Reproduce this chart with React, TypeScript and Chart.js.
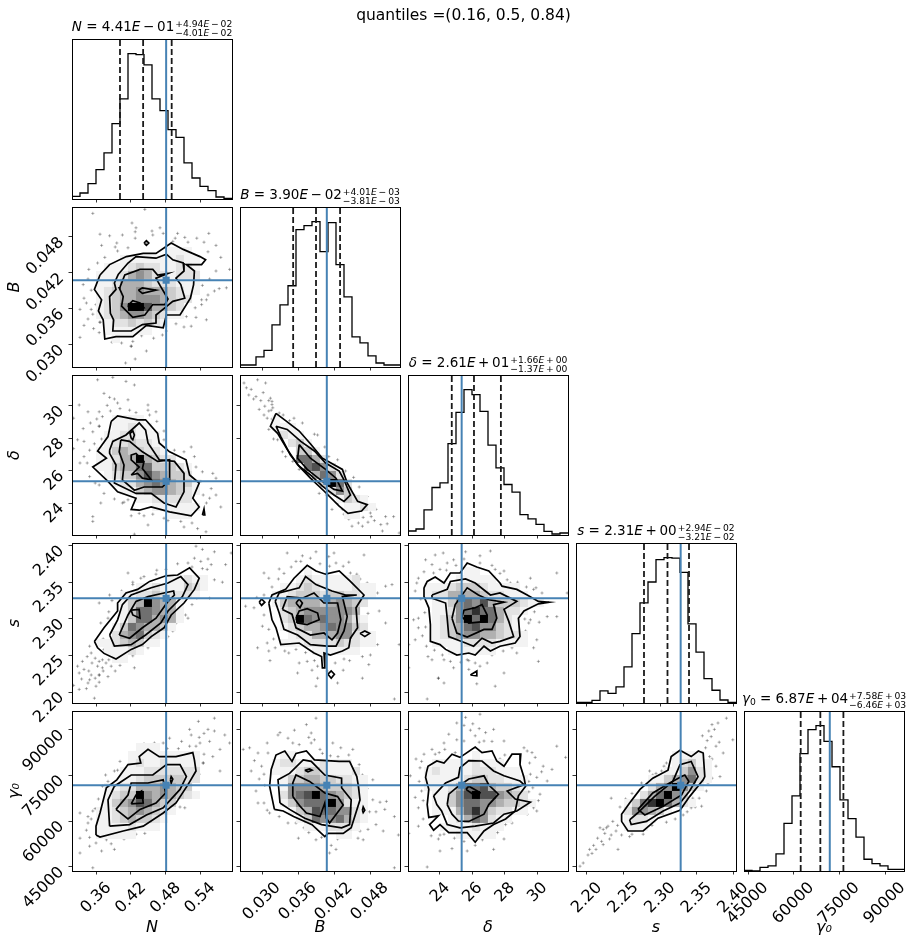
import React, { useEffect, useRef } from "react";
import { Chart, registerables } from "chart.js";

Chart.register(...registerables);

// ---- parameters: N, B, delta, s, gamma0 ----
const axisLabels = ["N", "B", "δ", "s", "γ₀"];
const rangeLo = [0.318, 0.02633, 22.03, 2.185, 43600];
const rangeHi = [0.5947, 0.053, 31.9, 2.4036, 96200];
const truths = [0.4808, 0.0408, 25.34, 2.328, 71800];
const q16 = [0.401, 0.03519, 24.73, 2.2779, 62240];
const q50 = [0.441, 0.039, 26.1, 2.31, 68700];
const q84 = [0.4904, 0.04301, 27.76, 2.3394, 76280];

const tickValues = [
  [0.36, 0.42, 0.48, 0.54],
  [0.03, 0.036, 0.042, 0.048],
  [24, 26, 28, 30],
  [2.2, 2.25, 2.3, 2.35, 2.4],
  [45000, 60000, 75000, 90000],
];
const tickLabels = [
  ["0.36", "0.42", "0.48", "0.54"],
  ["0.030", "0.036", "0.042", "0.048"],
  ["24", "26", "28", "30"],
  ["2.20", "2.25", "2.30", "2.35", "2.40"],
  ["45000", "60000", "75000", "90000"],
];

const titleSymbols = ["N", "B", "δ", "s", "γ"];
const titleValues = ["4.41", "3.90", "2.61", "2.31", "6.87"];
const titleExps = ["− 01", "− 02", "+ 01", "+ 00", "+ 04"];
const titlePlus = ["+4.94|− 02", "+4.01|− 03", "+1.66|+ 00", "+2.94|− 02", "+7.58|+ 03"];
const titleMinus = ["−4.01|− 02", "−3.81|− 03", "−1.37|+ 00", "−3.21|− 02", "−6.46|+ 03"];
const supTitle = "quantiles =(0.16, 0.5, 0.84)";

// ---- 1-D histogram counts, 20 bins each ----
const histN = [8, 18, 46, 88, 138, 226, 300, 436, 433, 402, 300, 265, 208, 185, 108, 63, 38, 25, 6, 2];
const histB = [6, 6, 30, 50, 126, 186, 243, 411, 423, 435, 345, 432, 306, 210, 90, 72, 33, 12, 6, 6];
const histD = [12, 18, 75, 142, 156, 273, 367, 435, 420, 370, 269, 201, 151, 128, 61, 48, 32, 11, 3, 6];
const histS = [2, 2, 8, 36, 29, 48, 108, 207, 299, 361, 428, 434, 432, 390, 236, 152, 73, 38, 9, 2];
const histG = [2, 0, 11, 15, 51, 142, 224, 350, 422, 434, 387, 311, 212, 156, 101, 35, 22, 15, 5, 5];

// ---- 2-D density on the 20x20 bin grid, top row first, one digit per bin ----
const heatNB = ["", "", "", "", "", "000000000000111",
  "0000001111111211", "0000111232211221", "0001112454221222", "0001124443222111",
  "0001234454443211", "000123445554322", "00012359974432", "00012345543211",
  "0000122323210", "0000111111", "000001"];
const heatBD = ["", "", "", "", "00000", "00001", "0000111", "00000211", "000000231", "0000000331",
  "00000006642", "000000006752", "0000000004652", "00000000003962", "00000000000253",
  "0000000000001321", "00000000000001121", "000000000000011"];
const heatND = ["", "", "", "", "", "000001111", "0000011211", "00001122111", "00001223221",
  "000113433221", "0001124494322", "000113446633321", "000012335754332", "0000012245654331",
  "0000001134554321", "000000001122222", "0000000000111111", "000000000000111"];
const heatNS = ["", "", "", "", "000000000000112110", "000000001121113210",
  "00000011223222210", "00000013495441", "00000013665441", "00000013664541",
  "00000136544310", "00000245632100", "00011234311", "00001112100", "00000110"];
const heatBS = ["", "", "", "000000001", "0000000121111120", "00000112321111211", "00001123332332211",
  "00001344443454320", "000002345555554", "0000023965655421", "0000012344565532",
  "00000012244455211", "00000111222232211", "00000000011111100"];
const heatDS = ["", "", "", "00000001100", "00000011111", "00111233321111", "001224444322111",
  "00011356574333211", "0001125686642210", "00012359696421", "00012346755321",
  "000123455443221", "00011112222111100", "00000111111"];
const heatNG = ["", "", "", "", "0000000011100", "00000001111111110", "0000000121121111",
  "0000001112222222", "0000001123333322", "000011224445433", "0000123395454321",
  "0000134576433", "00011234543210", "00011234332100", "00011112111", "00011111"];
const heatBG = ["", "", "", "", "", "00000110", "00001221112111", "000011123321112",
  "0000013344332211", "0000015555433321", "0000025679654321", "0000013566695211",
  "0000001347665521", "0000000136556421", "000000001112221", "00000000000011"];
const heatDG = ["", "", "", "", "", "000000001", "00011111211100", "00121111222111",
  "001111123322111", "001112466743321", "000113579775432", "0001135665543321",
  "000111468532211", "0000012465211", "00001111211100", "00000011111"];
const heatSG = ["", "", "", "", "", "000000000000111100", "00000000000012311", "00000000000113521",
  "00000000011345621", "00000000024595310", "00000000246953000", "000000136896421",
  "00000025543100000", "00000012210000000", "00000011100000000"];

// ---- contour vertices on the same bin grid (column, row from the top) ----
type P = number[];
const contourNB: P[][] = [
  [[3.5,8.5],[4.7,7.2],[6.8,6.2],[8.9,5.8],[10.5,5.8],[12.4,4.5],[13.9,5.3],[16,6.2],[16.7,6.6],[16.2,7.2],[14.3,7.2],[15.3,8],[15.2,9.7],[14.8,11.4],[13.5,13.5],[11.8,13.5],[11.4,15.1],[9.3,14.8],[7.6,16.2],[5.5,16.2],[4.1,16.5],[3.9,14.1],[3.3,13],[3.7,11.6],[2.8,10.3]],
  [[5.8,8.4],[7,7],[8,6.2],[10.5,6.4],[11.8,5.9],[12.6,6.6],[13.9,7],[14,8],[13,8.9],[13.6,9.7],[14.1,11.4],[12.6,11.8],[11.6,12.6],[10.5,13.5],[10.5,14.5],[8.8,14.7],[7.4,15.5],[5.1,15.5],[5.2,14.1],[4.8,13.3],[4.7,11.2],[5.5,10.3],[5.3,9.5]],
  [[6,10],[6.6,8.5],[8.5,7.8],[10.1,7.8],[10.7,8.5],[12,8.3],[10.5,8.9],[11,9.8],[12,11.5],[11.6,12.2],[10.1,12.2],[9.1,13.5],[7.6,13.8],[6.2,12.4],[6.4,11.2],[5.9,10.1]],
  [[7,12.3],[7.6,11.7],[8.5,12],[9,12.6],[8.1,12.9],[7.2,12.8]],
  [[8.3,10.4],[8.8,10.1],[10.5,10.4],[8.8,10.8]],
  [[9,4.5],[9.3,4.2],[9.6,4.5],[9.3,4.8]],
];
const contourBD: P[][] = [
  [[4.5,4.8],[5.7,5.7],[7.4,7],[8.8,8.6],[10.3,10.4],[12.8,11.8],[13.4,13.5],[14.7,15.8],[15.9,16.2],[15.2,17],[13.5,17.3],[12.4,16.4],[10.5,14.5],[8.8,12.9],[7.2,11.2],[5.9,9.3],[4.7,7.3],[3.8,6.4]],
  [[4.5,6.4],[5.9,6.8],[7.6,8.3],[9.3,9.5],[10.7,11],[12.4,12],[13,13.1],[13.8,15],[13,15.8],[11.75,15],[10.3,13.9],[8.8,12.5],[7.4,11.4],[6.3,10],[5.1,7.7]],
  [[7.4,8.7],[8.8,10.4],[10.7,11.8],[12,12.9],[12.8,14.5],[11.75,14.3],[10.3,13.3],[8.4,11.8],[7.2,10.4]],
];
const contourND: P[][] = [
  [[4.9,5.8],[5.7,5.1],[8.2,5.6],[9.2,5.6],[10.7,7.3],[10.9,8.5],[12.2,9.6],[14.25,10.6],[14.7,12.5],[15.9,13.5],[15.1,15.4],[15.9,16.5],[14.9,17.6],[12.2,17.1],[9.9,16.5],[8.4,16.9],[7.4,16.8],[8,15.4],[5.7,14.6],[4.5,13.3],[2.6,11.5],[4.3,10.4],[3.2,9.5],[4.5,7.7]],
  [[4.7,9.4],[5.1,8.3],[6.75,7.5],[8.4,6],[9.2,6.9],[9.5,8.5],[10.9,10.6],[12.8,10.8],[14,12.3],[14,14.6],[13,16.5],[11.5,16],[9.9,14.8],[8,14.8],[5.3,13.5],[5.5,11.25],[4.7,9.8]],
  [[6.1,8.1],[7.2,8.3],[8.8,9.6],[10.7,10.8],[12.2,10.6],[12.2,13.1],[11.3,14],[9,14],[7.8,14.4],[6.3,13.1],[6.5,11.25],[5.9,9.6]],
  [[7.4,12.5],[8.2,12.3],[8.8,12.9],[9.9,13.1],[8.8,11.7],[9,10.8],[8,9.8],[7.4,10],[7.4,10.6],[8.4,11.5]],
  [[7.4,7.9],[7.25,7.3],[7.6,7],[7.8,7.5],[7.6,8.1]],
  [[16.3,17.5],[16.5,16.75],[16.6,17.5]],
];
const contourNS: P[][] = [
  [[2.8,12.3],[4,10.6],[5.7,8.5],[5.7,7.5],[6.75,6.25],[8.2,5.8],[9.7,4.8],[11.75,4.1],[13.2,4],[14.7,3.1],[15.9,4.4],[15.3,5.8],[14,7.5],[12.4,9],[11.5,10.6],[9.9,11.7],[8.8,12.7],[7.4,13.3],[5.5,14.5],[4,13.8],[3.2,13.1]],
  [[4.7,11.5],[5.7,9.6],[6.3,7.7],[7.4,6.5],[9.9,5.6],[12,5],[13.6,4.2],[14.5,5.2],[13.8,6.7],[12,8.5],[11.1,10],[9.2,11.5],[7.4,12.7],[5.3,12.9]],
  [[5.9,11.5],[7,9],[8,7.3],[9.5,6.7],[11.5,6.25],[12.7,6],[12.8,6.5],[12,7.3],[10.5,9.4],[8.8,10.6],[7.2,11.9]],
  [[7.4,8.4],[8.4,8.3],[8.5,9.4],[7.6,9]],
];
const contourBS: P[][] = [
  [[3.6,7.5],[4,6.5],[5.7,5.8],[6.75,4.4],[8.4,2.8],[9.5,3.5],[10.7,3.9],[12.4,3.5],[13.8,4.8],[15.5,6.5],[14.5,8.1],[14.7,10.6],[13.8,11.9],[13.6,13.1],[12.8,13.5],[11.3,14],[10.5,13.75],[10.6,15.6],[10.3,15.6],[10.2,14.2],[9.25,13.75],[7.4,12.5],[5.1,12.7],[4.5,10.6],[4,9.6]],
  [[4.4,7.3],[4.9,6.25],[7.4,5.6],[8.2,4.2],[9.5,5.2],[11.5,6],[13.2,6.5],[14.6,6.5],[12.8,6.7],[13.4,9.2],[13,11],[12,12.9],[10.9,12.9],[8.8,12.7],[7.2,11.5],[5.5,10.8],[4.9,8.75]],
  [[5.3,8.3],[5.9,6.7],[7.8,6.9],[9.25,6.25],[10.5,7.5],[12.2,7.5],[12.6,9.6],[12.2,11.25],[11.5,12.1],[10.5,11.25],[8.8,11.5],[7,10.6],[6.5,8.9]],
  [[7,9.4],[7.4,8.5],[8.4,8.2],[9.7,8.75],[9.9,9.6],[8.4,10.2],[7.2,10]],
  [[7,7.5],[7.4,7],[7.8,7.5],[7.5,8.1]],
  [[2.4,7.4],[2.7,7],[3.1,7.4],[2.7,7.8]],
  [[15,11.3],[15.6,11],[16.2,11.3],[15.6,11.7]],
  [[11,16.4],[11.4,16],[11.8,16.4],[11.4,16.9]],
];
const contourDS: P[][] = [
  [[2,5.6],[2.4,4.8],[3.4,4.25],[4.5,5],[5.3,3.75],[6.5,3.75],[7.4,2.5],[8.6,3],[10.1,3.5],[11.5,5],[11.75,5.4],[13.6,5.8],[14.9,6.5],[16.3,7.3],[17.6,7.4],[16.3,7.6],[14.5,8.5],[13.8,9.4],[14,11.7],[13.4,12.5],[11.5,12.9],[10.3,13.5],[9.5,12.9],[8.4,14],[7.6,13.75],[6.1,14],[4.7,13.3],[4,12.7],[2.8,12.3],[2.8,10.2],[2.6,8.1],[2,6.7]],
  [[3,6.5],[4.9,5.8],[5.3,4.8],[7.2,4.5],[8.4,5],[10.3,6.5],[11.5,6.25],[13.6,7.3],[12,8.3],[12.6,9.8],[13.2,11.7],[11.5,12.3],[10.5,12.5],[9.25,11.9],[8.2,12.9],[7.2,12.5],[5.1,11.7],[4.9,9.4],[4.7,7.5],[3,6.9]],
  [[5.5,9.4],[5.9,7.7],[7.4,5.6],[8.8,6.5],[10.1,7.1],[12,7.4],[10.7,7.7],[11.1,9.4],[10.5,10.8],[9.5,10.8],[7.4,11.75],[6.1,11.25]],
  [[6.75,9.25],[7,8.4],[8.4,8.1],[9.25,7.7],[9.9,9],[9.7,9.8],[7.6,10]],
  [[7.8,16.5],[8.6,16],[8.6,16.6]],
];
const contourDG: P[][] = [
  [[2.3,7.7],[2.5,6.9],[3.6,6.25],[4.5,6.5],[5.5,5.4],[6.5,5.8],[8.4,4.5],[9.25,5.2],[10.5,5],[11.1,6.25],[12,6.9],[13,5.4],[14.1,5.4],[14,6.7],[14.5,8.3],[14.7,9.4],[13.8,10.6],[13.4,12.5],[12.2,13.5],[10.7,14.2],[9.5,15],[8.4,16.4],[7.4,15.2],[5.1,15.2],[4,14.2],[3.2,14.9],[2.7,14.2],[3.8,13.1],[2.6,13.3],[2.4,11.7],[2.6,9.8],[2.2,8.3]],
  [[3.2,10.6],[4.7,9],[6.3,8.3],[6.5,7.1],[7.6,6.2],[9.25,6.25],[10.7,7.5],[12,8.1],[14,8.75],[14.5,9.2],[12.4,10],[13.4,11],[15.3,11.4],[13.6,12.5],[12,12.9],[10.7,14],[8.4,14.4],[6.5,14.6],[4.9,14.2],[4.2,12.5],[3.6,11.7]],
  [[4.9,11.7],[5.1,10.4],[6.3,9.4],[7.6,8.5],[9.5,8.1],[10.1,9.25],[11.3,10.4],[10.1,11.7],[9.5,12.9],[7.6,13.8],[6.3,13.75],[5.5,12.9]],
  [[7.25,9.8],[7.6,9.4],[9,10.2],[8.7,10.8]],
];
const contourNG: P[][] = [
  [[3,15.5],[3,14.4],[3.5,12.75],[4.3,9.6],[5.6,8.6],[7,6.7],[8.6,6.5],[8.4,5.7],[9.5,4.8],[10.9,5.7],[13,5.7],[15.1,5.2],[15.3,6.1],[15.5,7.5],[14.5,9.2],[13,11.5],[11.4,12.75],[8.9,14.4],[6.4,15],[3.5,15.75]],
  [[4.7,14.4],[4.5,11.1],[5.3,9.4],[7.4,8],[10.1,8],[11.8,6.7],[13.5,6.7],[14.3,8.2],[13.5,9.8],[11.4,12.1],[9.3,13],[7.2,14.2]],
  [[5.5,12.3],[7,10.5],[7.4,9],[9.5,9],[11.4,8.6],[11.7,10.25],[10.5,11.5],[8.5,12.3],[7,13.5]],
  [[7.4,11.6],[8,10.5],[8.7,10],[8.9,11.5]],
  [[12.3,8.6],[12.4,8.2],[12.6,8.5],[12.4,9]],
];
const contourBG: P[][] = [
  [[4.3,12.3],[3.7,9.4],[3.9,7.3],[4.5,5.5],[5.6,5],[6.5,6.3],[7,5.3],[8.3,5],[9.3,6.1],[12.4,6.3],[13.7,6.3],[14.6,8.2],[14.8,9.4],[15,11.1],[13.9,14.6],[12.9,15.3],[11,15.3],[10.6,15.7],[9,14.2],[6.7,13.2],[5.4,12.5]],
  [[5,11.5],[4.75,8.6],[6.2,7.8],[7.9,6.1],[8.9,6.3],[10.6,8],[12.7,8.4],[12.7,9.6],[13.9,11.1],[13.7,14.2],[12.7,14.6],[10.2,14.2],[8.1,13.4],[6.2,12.3]],
  [[6.6,10.7],[6.6,9],[7,8],[8.7,8.8],[10.6,10.25],[12.2,10.7],[12.9,11.75],[11.2,14],[10.8,13.4],[10.6,11.5],[10,13.2],[8.3,12.75],[7.5,11.9]],
  [[8.1,7.4],[8.7,7.25],[9,7.4],[8.5,7.6]],
  [[15.3,12.4],[15.4,12],[15.6,12.4],[15.4,12.7]],
];
const contourSG: P[][] = [
  [[5.7,13.8],[6.5,15],[8.4,15],[10.25,13.4],[13,12.4],[14.2,10.7],[15.9,8.6],[16.1,8.2],[15.9,5.25],[15.3,5],[14.4,5.7],[13,4.9],[11.9,5.7],[11.5,7.4],[9.6,8.4],[8,9.8],[6.7,11.5],[5.7,12.9]],
  [[6.7,13.6],[7.7,12.75],[9.8,10.7],[12.1,8.8],[13,6.7],[14.4,6.3],[15.25,8.2],[14.2,10],[13,11.5],[10.9,12.5],[8.8,13.8],[6.9,14.2]],
  [[7.75,12.3],[9.6,10.25],[11.7,9],[13.2,8.2],[13.6,8],[14.1,8.8],[13.2,10.5],[10.9,11.9],[8.6,13]],
];

// ---- individual samples outside the contours, on the same bin grid ----
const pointsNB: P[] = [[2.6,.8],[9.1,.3],[7.9,3.1],[7.9,3.9],[5.6,4.5],[3.5,3.4],[4.7,3.6],[9.3,4.5],[14.1,3.8],[13.2,3.3],[17.1,3.3],[15.6,3.9],[12.6,4.3],[11.4,3.3],[10.1,3.5],[3.7,4.8],[5.7,5.5],[2.1,7.8],[1.4,9.7],[1,12.8],[2.4,12.8],[3.5,14.4],[3.5,14.4],[1,16.3],[2,14],[1.5,11.4],[7.4,17.4],[7.4,17.4],[6.7,19.5],[9.3,18],[7.9,19],[9.3,15.5],[11.8,15.5],[14.9,14.9],[16.8,14.1],[14.3,13.7],[16.2,12.2],[17.8,10.5],[17,11],[19.3,10.1],[19.7,7.8],[18,8],[16.2,11.6],
  [11,2.6],[10,3],[6.3,3.5],[8,2.6],[7.5,2],[14.5,4.4],[16.5,4.4],[18,4.8],[12.9,3.9],[2,9],[2.4,10.4],[1.8,12],[3,12.2],[2.6,13.4],[1.5,14.8],[2.7,15.2],[3.4,15.7],[5,16.9],[6.2,17],[7.6,16.8],[8.7,16.1],[10.2,16.4],[11.3,16],[13,14.6],[14,15],[15.5,13.8],[15.4,12.6],[16.8,11.6],[16.3,9.8],[17.2,9],[18.4,10.2],[17,5.6],[18.6,6.3],[4.1,6.3],[3.2,7],[5.4,5],[7,5.1]];
const pointsBD: P[] = [[.5,1],[2.2,.6],[3.2,1],[1.1,2.5],[2,2.7],[2.4,4.3],[3.8,2.9],[4,3.7],[3.6,4.5],[3,5],[4.9,4.75],[6.75,5.4],[7.8,6],[4.7,8.1],[4.5,6.2],[5.7,10.2],[7.4,11.8],[9.7,7.5],[11.1,10.2],[13.2,12],[9.9,14.8],[11.5,16.8],[13.6,18],[14,18.9],[15.3,18.9],[16.3,17.25],[16.4,17.7],[17.6,18.7],[18.2,17.7],[19.2,17.7],[19.9,19.75],[15.5,15.8],[14.25,15],[16.1,16.8],[17.8,19.5],[13.6,16.6],[12.8,16.8],[4,3.3],[3.4,5.4],
  [1.7,3],[2.6,3.2],[3.1,3.9],[3.9,4.4],[4.1,4.1],[3.6,3.2],[2.9,2.2],[1.4,1.8],[.8,1.6],[5.4,5],[6.2,5.7],[4,5.5],[3.6,6.8],[4.2,8],[5.3,9.6],[6.6,10.8],[8,11.9],[9,13.2],[10.8,15],[12.2,16],[13,17.4],[14.4,17.8],[15.4,17.8],[16.8,18.2],[16,18.4],[14.8,18.5],[9.3,7.4],[10.6,9],[12.2,10.6],[14.2,12.8],[14.9,14],[15.9,15.2],[17,16.8],[18.4,18.6]];
const pointsND: P[] = [[3.2,.6],[5.1,.3],[6.75,.8],[7.8,1.25],[4,2.3],[4.7,2.8],[5.7,3.5],[7,3.1],[9.5,3.75],[3.4,4.6],[2,4.6],[.9,3.75],[.2,5.4],[3.4,6.4],[3.4,6.4],[2.6,7.1],[1.5,8.3],[.7,8.1],[2.2,9.4],[.2,9.2],[1.5,10.2],[2.2,12.7],[3.4,13.75],[3.6,16],[2.6,17.7],[2.6,18.3],[7,15.6],[6.3,16],[8.4,17.3],[9,17.6],[9.5,18.75],[7.8,19.9],[11.5,17.9],[13.6,18.3],[14,19],[15.7,19.2],[16.75,19.6],[18.6,16.5],[17.4,14.2],[16.1,13.3],[17.6,12.3],[18,12.9],[15.3,10.2],[14.9,9],[11.5,8.1],[9.9,6.7],[10.5,4.6],[9.5,4.4],
  [4.4,3.8],[4.8,4.5],[6,4.2],[7.2,4.4],[8,4.7],[5.3,3],[3.8,5.2],[3.1,5.5],[2.3,6],[3.7,8],[2.8,8.6],[1.4,6.7],[1.9,11],[1,11],[2.9,13.5],[4,14.8],[5.3,15.5],[6.5,15.9],[7.4,17.6],[10.1,17.4],[12,18.2],[15,18.5],[16.8,16],[16.4,15],[17.2,15.4],[18,15],[15.5,11.5],[16.3,12.1],[14,9.6],[12.8,9.4],[11.5,7],[10.6,5.8],[9.7,5]];
const pointsNS: P[] = [[15.5,.4],[16.3,.8],[17.8,1.1],[19.9,1.25],[17.4,2.7],[15.3,1.9],[14.5,2.5],[16.1,2.3],[19.2,2.7],[16.9,3.3],[16.5,4.2],[18.8,4.9],[17.8,4.6],[16.3,5.8],[17.2,6.9],[11.75,3.3],[10.5,3.9],[8.6,4.4],[7,3.75],[7.6,5.2],[4.7,6.5],[3.4,7.5],[4.5,9.4],[3.6,10],[13.8,9.8],[14.5,9.4],[13.8,8.3],[12,11.7],[9.5,13.1],[2.2,12.9],[2.4,13.75],[1.3,14.8],[.7,15.4],[1.5,15.8],[.9,16.25],[2.2,17.1],[3.4,16.5],[3.4,16.5],[2.4,16.5],[3.8,15.6],[4.25,15],[4.9,15.4],[3.4,14.8],[4.5,16.7],[2,17.5],[.2,17.8],[2.8,19.4],[.9,18.3],[7.8,15.6],[3,17.9],[3.8,14.6],
  [2.9,14.4],[2.5,15],[1.9,14.2],[3.2,15.4],[3.9,16],[2.9,16.9],[1.2,17],[2.1,16],[4.6,14.6],[3.4,17.4],[5.4,16],[6,15.3],[5.8,14.7],[7.6,14.1],[8.3,13.6],[1.8,18.2],[4,13.3],[3.9,12],[4.6,8.6],[5,7.2],[6.2,6],[7.6,4.9],[9,4.2],[10.6,3.4],[13.2,2.6],[15,3],[16.3,3.2],[16.7,5],[17,2],[15.6,6.9],[15,7.7],[14.2,9],[13,10],[12.6,11],[10.8,12.2],[9.9,12.6]];
const pointsBS: P[] = [[9.5,1.1],[7.8,1.6],[5.9,1.25],[7,2.3],[4.9,3.25],[3.6,4.4],[3,3.75],[11.1,1.7],[12,2.5],[11.75,1.25],[15.5,1.5],[13.6,2.4],[13.8,3.75],[16.5,6],[17.2,6.25],[18.2,5.4],[15.9,5],[1.75,8.1],[.7,7.9],[2.8,10.4],[3.4,12.5],[2.2,13.1],[3.6,13.5],[6.1,13.75],[3.75,14.7],[7.4,15],[7.2,16.25],[8.4,14.8],[9.7,16.9],[9.5,17.9],[12.2,17.5],[15.3,16.9],[15.3,14.2],[16.3,14],[17.2,12.7],[19.9,12.7],[15.1,12.3],[15.3,10],[18.2,10],[19.3,19.5],[19,5.2],[17.4,8.5],[16.1,15.2],[10.9,16],
  [4,5.5],[4.8,4.5],[5.5,3.8],[6.4,3],[7.6,2.3],[8.8,1.9],[10,2.6],[11.2,2.9],[12.9,2.9],[14.6,3.9],[15,4.5],[16.2,5.6],[3,6.5],[2.1,6.8],[3,9],[3.6,10.8],[4.2,12],[4.4,13.1],[5.6,13.5],[7,13.3],[8.2,13.7],[9.3,14.7],[9.7,15.4],[9,15.9],[11.9,15],[13,14.5],[13.7,14.7],[14.5,13.2],[15.1,11.8],[15.4,9.6],[16,8.8],[15.7,7.8],[12.9,15.9]];
const pointsDS: P[] = [[3.4,1.5],[4.4,1.25],[2.2,2.1],[4.9,2.5],[5.7,2.1],[7.2,1.1],[9,1.6],[10.3,1],[10.9,3.3],[12,3.5],[3.2,3.75],[1.1,5],[.9,6],[12.8,5],[15.3,4.4],[15.7,5.8],[16.75,6.25],[18.6,3.75],[19.9,6.25],[17.4,9.2],[15.3,9.6],[14.7,11],[16.1,12.1],[15.7,13.1],[16.3,14.8],[18.6,9.2],[1.3,9.4],[.7,9.6],[1.3,10.6],[.1,12.7],[.9,12.1],[2.5,14.2],[3,14.6],[.1,15.6],[3.8,16.9],[3.8,16.9],[5.7,15.6],[4.5,17.5],[8.4,15],[7.6,15.8],[9.9,15],[12,16.25],[13.6,13.75],[10.9,17.9],[2.4,19.5],[7.4,14.6],[4.5,14.6],
  [1.3,4.4],[2,3.6],[3,2.7],[4,3.3],[4.8,3.4],[6,2.8],[7,2],[9,2.5],[10.5,2.8],[11.5,3.8],[12.4,4.6],[13.7,4.9],[14.8,5.5],[16,5.6],[1.6,7],[2.1,8.7],[2.2,10.5],[1.8,11.6],[2.3,12.9],[3.3,13.4],[4.3,14],[5.3,14.8],[6.6,14.9],[7.6,14.7],[9,15.4],[8.6,17.6],[10.5,14],[11.9,13.5],[13,13.1],[14.5,12.5],[15.1,10],[14.6,9.5],[15.8,8.6],[16.4,9.9]];
const pointsNG: P[] = [[2.6,19.6],[17.8,.9],[15.8,1.3],[17,2.3],[14.9,3],[13.7,3.8],[16,4],[11.4,4],[12.2,3.4],[16.4,6.5],[16.4,6.5],[17.6,5.7],[19.1,3],[19.7,4],[18.5,7.5],[15.8,10.7],[14.1,12.1],[10.5,13.6],[9.1,15.3],[6.6,15.5],[4.3,16.1],[1,12.75],[2,14],[1,15.9],[2.2,16.9],[1,17.75],[3.7,17.5],[5.3,17.3],[2,13.2],[4.5,8.8],[5.3,7.5],[7.2,6.1],[9.7,4.4],[2.6,12.5],[14.7,2.3],[15.5,4.4],[17.2,3.8],
  [10.3,4],[9,4.1],[8.2,5],[7.4,5.8],[6,6.3],[5.7,7.4],[4.2,8],[3.8,9.4],[3.3,11],[2.9,12.2],[2.4,13.5],[1.8,14.9],[2.2,15.8],[3,16.5],[4.9,16.6],[6.5,16],[8,15.4],[10,14.2],[11.7,13.4],[12.8,12.6],[13.5,12],[14.4,10.3],[15.3,8.8],[15.9,7.9],[16.5,5.4],[15.9,3.3],[14.7,4.4],[13.3,4.7],[11.9,4.7],[17.8,2.5],[16.5,2.8],[18.5,4.8]];
const pointsBG: P[] = [[9.5,.9],[4.75,3],[8.3,1.7],[8.9,2.75],[8.9,4],[6,3.4],[12.25,5.7],[11.6,4],[2.25,5.25],[3.5,5.25],[1.2,4.6],[2.7,6.9],[1.4,7.5],[2.25,11.5],[3.7,12.75],[7,14],[7.3,15.9],[9.5,16.1],[11.4,16.8],[11.2,17.75],[12,17.3],[15.4,12.3],[16,14.8],[17,14.2],[16.6,11.1],[18.3,11.3],[15.4,16.1],[17.9,15],[19.3,19.6],[19.8,15.5],[19.3,13.2],[16.6,8.6],[6.6,4],[14.1,4.8],[10,4.8],[14.75,15.9],[18.1,12.3],[.4,4.8],
  [3.4,4],[5,2.7],[6.8,2.4],[8.6,3.3],[9.3,3.6],[7.4,4.2],[3,7.9],[3.1,9.3],[2.4,8.5],[2,10],[3,11.5],[3.4,12.4],[4.9,13.2],[6,14],[8,14.6],[8.6,15.2],[10.2,15.8],[12.2,16],[13.5,15.8],[15,15],[15.3,13.6],[16.2,12.6],[17,12.6],[17.5,11.4],[15.9,9.7],[15.3,8],[14.9,6.7],[13.6,5.5],[11.3,5.6],[10.3,5.3],[12.6,4.6],[1.8,6.2]];
const pointsDG: P[] = [[7.2,.8],[6.1,1.5],[7.8,2.4],[8.4,3.1],[9.5,3.75],[7,3.75],[5.1,2.9],[4.5,4],[10.7,2.3],[9.7,2.7],[5.9,5.2],[3.4,5.4],[3,4.8],[1,6],[1.5,7.1],[.3,8.1],[.9,10.8],[1.3,12.1],[1.3,14.4],[.1,15.3],[3.8,16],[4.5,15.4],[5.5,17.2],[7.4,17.5],[8.4,16.8],[10.7,17.3],[2.4,19.5],[12.2,14.2],[14.9,5],[15.5,5.2],[16.9,6.9],[16.1,8.3],[17.4,8.75],[18.6,4.4],[19.7,5.8],[18,7.3],[15.3,7.9],[16.1,12.5],[15.7,12.1],[16.5,10.4],[12,3.75],[11.5,6],[14.9,12.9],[12,16],[4,17.5],[9,.4],
  [8.9,2.2],[8.1,1.6],[7,1.8],[6.1,3.6],[4.6,4.8],[3.9,5.2],[2,5.4],[1.7,6.3],[1.4,8.8],[1.7,10],[1.9,11.2],[1.9,13.5],[2.9,15.6],[4,15.5],[5.8,15.9],[7,16.3],[9.3,16.1],[11.2,15.2],[13,14],[14.2,12.2],[14.8,11.9],[15.1,10.1],[15.6,9.6],[15.2,6.5],[15.9,5.8],[16.7,7.6],[15.1,8.8],[14.5,4.6],[12.1,5.5],[10.5,3.8],[8.9,3.9],[16.3,11.2]];
const pointsSG: P[] = [[18.8,.9],[17.3,2.3],[16.9,3.2],[19.6,3.6],[17.75,1.5],[18.4,5.25],[17.5,4.4],[16.7,5.7],[17.5,6.9],[16.5,9],[18,8.2],[14.6,10.9],[14.4,12.1],[13.4,13],[9.2,7.5],[11.3,6.5],[6.3,12.5],[4.4,10.9],[3.4,14.8],[5,15],[4.4,15.5],[3.2,16.3],[3.4,16.7],[1.7,17.3],[2.5,17.3],[.5,19.4],[5.25,17.3],[4,14.4],[5.7,15.5],[6.7,15.7],[9.6,8],[10.7,7.5],[15.7,11.9],[3.8,14.6],
  [17,1.7],[16.4,3.7],[15.8,3.1],[17.9,3.9],[16.6,2.5],[16.2,4.6],[17,6],[16.5,7.4],[17,8.4],[16.3,10],[15.4,10.9],[14.9,12],[13.9,12.6],[12.4,13.5],[11.3,13.9],[9.5,14.3],[8.4,15.4],[7,15.4],[5.2,14.3],[4.6,13.8],[5.5,12],[6.2,11],[7,10.3],[8.2,9],[10,7.8],[11,6.9],[2.7,15.9],[3.6,15.3],[4.2,16],[2.2,16.8],[1.5,18],[3,14.6],[2,17.8],[.9,19]];

const densityGray = [255, 243, 226, 204, 176, 145, 112, 80, 48, 0];

const hists = [histN, histB, histD, histS, histG];
const pairs: Record<string, { heat: string[]; contours: P[][]; points: P[] }> = {
  "0-1": { heat: heatNB, contours: contourNB, points: pointsNB },
  "0-2": { heat: heatND, contours: contourND, points: pointsND },
  "1-2": { heat: heatBD, contours: contourBD, points: pointsBD },
  "0-3": { heat: heatNS, contours: contourNS, points: pointsNS },
  "1-3": { heat: heatBS, contours: contourBS, points: pointsBS },
  "2-3": { heat: heatDS, contours: contourDS, points: pointsDS },
  "0-4": { heat: heatNG, contours: contourNG, points: pointsNG },
  "1-4": { heat: heatBG, contours: contourBG, points: pointsBG },
  "2-4": { heat: heatDG, contours: contourDG, points: pointsDG },
  "3-4": { heat: heatSG, contours: contourSG, points: pointsSG },
};

// ---- layout and style ----
const FONT = "'DejaVu Sans'";
const BLUE = "#4682b4";
const PANEL = 160;
const COL_X = [72, 240, 408, 576, 744];
const ROW_Y = [39, 207, 375, 543, 711];
const X_LABEL_SHIFT = [12.5, 16, 7.5, 12.5, 17.5];
const Y_AXIS_W = 67;
const X_AXIS_H = 66;

function panelPlugin(col: number, row: number) {
  return {
    id: "panelFrame",
    afterDraw(chart: any) {
      const ctx = chart.ctx;
      const a = chart.chartArea;
      ctx.save();
      ctx.strokeStyle = "#000";
      ctx.lineWidth = 1;
      ctx.strokeRect(a.left + 0.5, a.top + 0.5, a.right - a.left, a.bottom - a.top);
      ctx.fillStyle = "#000";
      ctx.textBaseline = "alphabetic";
      ctx.textAlign = "left";
      if (col === row) {
        const main = `13.5px ${FONT}`;
        const mainIt = `italic 13.5px ${FONT}`;
        const sc = `9.2px ${FONT}`;
        const scIt = `italic 9.2px ${FONT}`;
        const spaced = (s: string) => "\u2009" + s.replace(" ", "\u2009");
        const [pv, pe] = titlePlus[col].split("|");
        const [mv, me] = titleMinus[col].split("|");
        const parts: [string, string, number][] = [[titleSymbols[col], mainIt, 0]];
        if (col === 4) parts.push(["0", sc, 2]);
        parts.push([` = ${titleValues[col]}`, main, 0], ["E", mainIt, 0], [spaced(titleExps[col]), main, 0]);
        const w = (t: string, f: string) => { ctx.font = f; return ctx.measureText(t).width; };
        const scriptW = (v: string, e: string) => w(v, sc) + w("E", scIt) + w(spaced(e), sc);
        const mainW = parts.reduce((s, p) => s + w(p[0], p[1]), 0);
        const total = mainW + 1 + Math.max(scriptW(pv, pe), scriptW(mv, me));
        let x = (a.left + a.right) / 2 - total / 2;
        const base = a.top - 8;
        for (const [t, f, dy] of parts) {
          ctx.font = f;
          ctx.fillText(t, x, base + dy);
          x += ctx.measureText(t).width;
        }
        x += 1;
        const script = (v: string, e: string, y: number) => {
          let sx = x;
          ctx.font = sc; ctx.fillText(v, sx, y); sx += ctx.measureText(v).width;
          ctx.font = scIt; ctx.fillText("E", sx, y); sx += ctx.measureText("E").width;
          ctx.font = sc; ctx.fillText(spaced(e), sx, y);
        };
        script(pv, pe, base - 4.5);
        script(mv, me, base + 4.7);
      }
      if (col === 0 && row === 0) {
        ctx.font = `15.5px ${FONT}`;
        ctx.textAlign = "center";
        ctx.fillText(supTitle, 463.5, 20);
      }
      ctx.restore();
    },
  };
}

function buildDatasets(col: number, row: number) {
  const xLo = rangeLo[col], xHi = rangeHi[col];
  const xStep = (xHi - xLo) / 20;
  const ds: any[] = [];
  const line = (data: any[], extra: any) => ({
    data, showLine: true, pointRadius: 0, fill: false, borderColor: "#000", borderWidth: 1.7, ...extra,
  });
  if (col === row) {
    const counts = hists[col];
    const top = Math.max(...counts) * 1.1;
    const steps = counts.map((c, i) => ({ x: xLo + i * xStep, y: c }));
    steps.push({ x: xHi, y: counts[counts.length - 1] });
    ds.push(line(steps, { stepped: true, borderWidth: 1.3 }));
    for (const q of [q16[col], q50[col], q84[col]]) {
      ds.push(line([{ x: q, y: 0 }, { x: q, y: top }], { borderDash: [6, 3], borderWidth: 1.8, borderColor: "#1a1a1a" }));
    }
    ds.push(line([{ x: truths[col], y: 0 }, { x: truths[col], y: top }], { borderColor: BLUE, borderWidth: 2 }));
    return ds;
  }
  const yLo = rangeLo[row], yHi = rangeHi[row];
  const yStep = (yHi - yLo) / 20;
  const toX = (u: number) => xLo + u * xStep;
  const toY = (v: number) => yHi - v * yStep;
  const pair = pairs[`${col}-${row}`];
  ds.push({
    data: pair.points.map(([u, v]) => ({ x: toX(u), y: toY(v) })),
    showLine: false, pointStyle: "cross", pointRadius: 1.6, pointBorderWidth: 1,
    pointBorderColor: "rgba(0,0,0,0.3)", pointBackgroundColor: "rgba(0,0,0,0.3)",
  });
  const cells: any[] = [];
  const cellColors: string[] = [];
  pair.heat.forEach((rowStr, j) => {
    for (let i = 0; i < rowStr.length; i++) {
      const d = Number(rowStr[i]);
      if (d > 0) {
        cells.push({ x: toX(i + 0.5), y: toY(j + 0.5) });
        const g = densityGray[d];
        cellColors.push(`rgb(${g},${g},${g})`);
      }
    }
  });
  ds.push({
    data: cells, showLine: false, pointStyle: "rect", pointRadius: 5.75, pointBorderWidth: 0,
    pointBackgroundColor: cellColors, pointBorderColor: cellColors,
  });
  pair.contours.forEach((c) => {
    const pts = c.map(([u, v]) => ({ x: toX(u), y: toY(v) }));
    pts.push(pts[0]);
    ds.push(line(pts, {}));
  });
  ds.push(line([{ x: truths[col], y: yLo }, { x: truths[col], y: yHi }], { borderColor: BLUE, borderWidth: 2 }));
  ds.push(line([{ x: xLo, y: truths[row] }, { x: xHi, y: truths[row] }], { borderColor: BLUE, borderWidth: 2 }));
  ds.push({
    data: [{ x: truths[col], y: truths[row] }], showLine: false, pointStyle: "rect", pointRadius: 5,
    pointBorderWidth: 0, pointBackgroundColor: BLUE, pointBorderColor: BLUE,
  });
  return ds;
}

function buildConfig(col: number, row: number): any {
  const isHist = col === row;
  const showX = row === 4;
  const showY = col === 0 && !isHist;
  const tickFont = { family: FONT, size: 16 };
  const axisFont = { family: FONT, size: 16, style: "italic" };
  const gridOpts = {
    display: true, drawOnChartArea: false, drawTicks: true, tickLength: 3.5, tickColor: "#000", tickWidth: 0.8,
  };
  const xTicks = tickValues[col];
  const scales: any = {
    x: {
      type: "linear", min: rangeLo[col], max: rangeHi[col], position: "bottom",
      afterBuildTicks: (s: any) => { s.ticks = xTicks.map((value) => ({ value })); },
      afterFit: (s: any) => { s.height = showX ? X_AXIS_H : 0; },
      ticks: {
        display: showX, autoSkip: false, minRotation: 45, maxRotation: 45, padding: 4,
        labelOffset: X_LABEL_SHIFT[col], font: tickFont, color: "#000",
        callback: (_: any, i: number) => tickLabels[col][i],
      },
      grid: gridOpts, border: { display: false },
      title: { display: showX, text: axisLabels[col], font: axisFont, color: "#000", padding: 0 },
    },
  };
  if (isHist) {
    scales.y = { type: "linear", display: false, min: 0, max: Math.max(...hists[col]) * 1.1 };
  } else {
    const yTicks = tickValues[row];
    scales.y = {
      type: "linear", min: rangeLo[row], max: rangeHi[row], position: "left",
      afterBuildTicks: (s: any) => { s.ticks = yTicks.map((value) => ({ value })); },
      afterFit: (s: any) => { s.width = showY ? Y_AXIS_W : 0; },
      ticks: {
        display: showY, autoSkip: false, minRotation: 45, maxRotation: 45, padding: 7,
        labelOffset: 3, font: tickFont, color: "#000",
        callback: (_: any, i: number) => tickLabels[row][i],
      },
      grid: gridOpts, border: { display: false },
      title: { display: showY, text: axisLabels[row], font: axisFont, color: "#000", padding: 0 },
    };
  }
  return {
    type: "scatter",
    data: { datasets: buildDatasets(col, row).reverse() },
    options: {
      responsive: false, maintainAspectRatio: false, animation: false, devicePixelRatio: 1, events: [],
      layout: {
        padding: {
          left: COL_X[col] - (showY ? Y_AXIS_W : 0),
          right: 916 - COL_X[col] - PANEL,
          top: ROW_Y[row],
          bottom: 943 - ROW_Y[row] - PANEL - (showX ? X_AXIS_H : 0),
        },
      },
      plugins: { legend: { display: false }, tooltip: { enabled: false }, title: { display: false } },
      scales,
    },
    plugins: [panelPlugin(col, row)],
  };
}

const panelIds: [number, number][] = [];
for (let r = 0; r < 5; r++) for (let c = 0; c <= r; c++) panelIds.push([c, r]);

export default function App() {
  const refs = useRef<(HTMLCanvasElement | null)[]>([]);
  useEffect(() => {
    const charts = panelIds.map(([c, r], i) => new Chart(refs.current[i] as HTMLCanvasElement, buildConfig(c, r)));
    return () => charts.forEach((ch) => ch.destroy());
  }, []);
  return (
    <div style={{ position: "fixed", left: 0, top: 0, width: 916, height: 943, background: "#fff", overflow: "hidden" }}>
      {panelIds.map(([c, r], i) => (
        <canvas
          key={`${c}-${r}`}
          ref={(el) => { refs.current[i] = el; }}
          width={916}
          height={943}
          style={{ position: "absolute", left: 0, top: 0 }}
        />
      ))}
    </div>
  );
}
